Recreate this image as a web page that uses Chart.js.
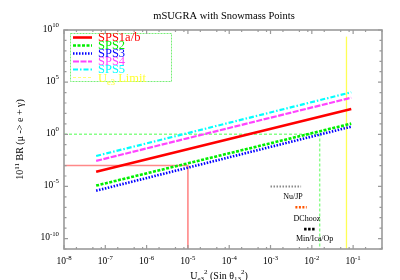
<!DOCTYPE html>
<html><head><meta charset="utf-8">
<script src="https://cdn.jsdelivr.net/npm/chart.js@4/dist/chart.umd.min.js"></script>
<style>html,body{margin:0;padding:0;background:#fff}</style>
</head><body>
<canvas id="c" width="400" height="280"></canvas>
<script>
// ---------------- data ----------------
const chartTitle = 'mSUGRA with Snowmass Points';
const seriesNames = ['SPS1a/b', 'SPS2', 'SPS3', 'SPS4', 'SPS5'];
const seriesX = [6e-8, 0.09];               // U_e3^2 at line ends
const sps1 = [2.5e-4, 270];
const sps2 = [1.2e-5, 10.5];
const sps3 = [3.9e-6, 5.4];
const sps4 = [2.8e-3, 3.2e3];
const sps5 = [8.3e-3, 1.07e4];
const limitName = 'Limit';
const ueLimitX = [0.069, 0.069];
const ueLimitY = [1e-11, 2.3e9];
const redRefX = [1e-8, 1e-5, 1e-5];
const redRefY = [1e-3, 1e-3, 1e-11];
const greenRefX = [1e-8, 1.55e-2, 1.55e-2];
const greenRefY = [1, 1, 1e-11];
const expNames = ['Nu/JP', 'DChooz', 'Min/Ica/Op'];
const expXStart = [1.0e-3, 4.0e-3, 6.5e-3];
const expXEnd = [5.5e-3, 7.5e-3, 1.2e-2];
const expY = [1e-5, 1e-7, 8e-10];
const expLabelX = [3.5e-3, 7.6e-3, 1.17e-2];
const expLabelY = [1e-6, 7.6e-9, 9e-11];
const xTickExps = [-8, -7, -6, -5, -4, -3, -2, -1];
const yTickExps = [10, 5, 0, -5, -10];

// ---------------- styles ----------------
const serif = "'Liberation Serif','Times New Roman',serif";
const sStyles = [
  {c:'#ff0000', w:2.6, d:[]},
  {c:'#00ee00', w:2.6, d:[3,1.5]},
  {c:'#0000ff', w:2.6, d:[1.5,1.5]},
  {c:'#ff44ff', w:2.2, d:[6,1.5]},
  {c:'#00ffff', w:2.2, d:[5,2,1.5,2]}
];
const expStyles = [
  {c:'#8a8a8a', w:2, d:[1.5,1.5]},
  {c:'#ff5500', w:2.4, d:[2,1.5]},
  {c:'#000000', w:2.8, d:[2.5,1.5]}
];
const seriesVals = [sps1, sps2, sps3, sps4, sps5];
const toPts = (xs, ys) => xs.map((v, i) => ({x: v, y: ys[i]}));

const datasets = [];
seriesVals.forEach((v, i) => datasets.push({
  label: seriesNames[i], data: toPts(seriesX, v), showLine: true, pointRadius: 0,
  borderColor: sStyles[i].c, borderWidth: sStyles[i].w, borderDash: sStyles[i].d, fill: false
}));
expNames.forEach((n, i) => datasets.push({
  label: n, data: toPts([expXStart[i], expXEnd[i]], [expY[i], expY[i]]), showLine: true, pointRadius: 0,
  borderColor: expStyles[i].c, borderWidth: expStyles[i].w, borderDash: expStyles[i].d, borderCapStyle: 'butt'
}));
datasets.push({label: 'Ue3 Limit', data: toPts(ueLimitX, ueLimitY), showLine: true, pointRadius: 0,
  borderColor: '#ffff55', borderWidth: 1.3});
datasets.push({label: 'green ref', data: toPts(greenRefX, greenRefY), showLine: true, pointRadius: 0,
  borderColor: '#88ff88', borderWidth: 1.4, borderDash: [3,2]});
datasets.push({label: 'red ref', data: toPts(redRefX, redRefY), showLine: true, pointRadius: 0,
  borderColor: '#ff8888', borderWidth: 1.6});

function supText(ctx, parts, x, y, align) {
  let total = 0;
  parts.forEach(p => { ctx.font = p.size + 'px ' + serif; p.w = ctx.measureText(p.t).width; total += p.w; });
  let sx = align === 'center' ? x - total / 2 : align === 'right' ? x - total : x;
  ctx.textAlign = 'left'; ctx.textBaseline = 'alphabetic';
  parts.forEach(p => { ctx.font = p.size + 'px ' + serif; ctx.fillText(p.t, sx, y + (p.dy || 0)); sx += p.w; });
}

const deco = {
  id: 'deco',
  afterDraw(chart) {
    const {ctx, chartArea: a, scales: {x, y}} = chart;
    ctx.save();
    // legend box
    ctx.strokeStyle = '#77ee77'; ctx.lineWidth = 1; ctx.setLineDash([2,1]);
    ctx.strokeRect(70.5, 33.5, 101, 48);
    const rows = [37.5, 45.5, 53.5, 61.5, 69.5, 77.5];
    seriesNames.forEach((n, i) => {
      ctx.strokeStyle = sStyles[i].c; ctx.lineWidth = sStyles[i].w; ctx.setLineDash(sStyles[i].d);
      ctx.beginPath(); ctx.moveTo(73, rows[i]); ctx.lineTo(92, rows[i]); ctx.stroke();
      ctx.fillStyle = sStyles[i].c; ctx.font = '12.5px ' + serif; ctx.textBaseline = 'middle'; ctx.textAlign = 'left';
      ctx.fillText(n, 98, rows[i] + 0.5);
    });
    ctx.strokeStyle = '#ffff77'; ctx.lineWidth = 1; ctx.setLineDash([3,2]);
    ctx.beginPath(); ctx.moveTo(73, rows[5]); ctx.lineTo(92, rows[5]); ctx.stroke();
    ctx.setLineDash([]);
    ctx.fillStyle = '#ffff33';
    supText(ctx, [{t:'U', size:12.5}, {t:'e3', size:8.5, dy:3}, {t:' ' + limitName, size:12.5}], 98, rows[5] + 4.5, 'left');

    // experiment labels
    ctx.fillStyle = '#000';
    expNames.forEach((n, i) => {
      ctx.font = '8px ' + serif; ctx.textAlign = 'center'; ctx.textBaseline = 'middle';
      ctx.fillText(n, x.getPixelForValue(expLabelX[i]), y.getPixelForValue(expLabelY[i]));
    });

    // frame
    ctx.strokeStyle = '#9a9a9a'; ctx.lineWidth = 1.6;
    ctx.strokeRect(a.left, a.top, a.right - a.left, a.bottom - a.top);
    // x ticks
    ctx.lineWidth = 1.2;
    ctx.beginPath();
    xTickExps.forEach(e => {
      [1, 2, 5, 8].forEach(m => {
        const v = m * Math.pow(10, e);
        if (v < x.min || v > x.max) return;
        const px = x.getPixelForValue(v), L = m === 1 ? 4 : 2;
        ctx.moveTo(px, a.bottom); ctx.lineTo(px, a.bottom - L);
        ctx.moveTo(px, a.top); ctx.lineTo(px, a.top + L);
      });
    });
    [2e-1, 5e-1].forEach(v => { if (v <= x.max) { const px = x.getPixelForValue(v);
      ctx.moveTo(px, a.bottom); ctx.lineTo(px, a.bottom - 2); ctx.moveTo(px, a.top); ctx.lineTo(px, a.top + 2);} });
    for (let e = -11; e <= 10; e++) {
      const py = y.getPixelForValue(Math.pow(10, e)), L = e % 5 === 0 ? 4 : 2.5;
      ctx.moveTo(a.left, py); ctx.lineTo(a.left + L, py);
      ctx.moveTo(a.right, py); ctx.lineTo(a.right - L, py);
    }
    ctx.stroke();

    // tick labels
    ctx.fillStyle = '#000';
    xTickExps.forEach(e => {
      const px = x.getPixelForValue(Math.pow(10, e));
      supText(ctx, [{t:'10', size:9.5}, {t:String(e), size:6.8, dy:-4.5}], px, a.bottom + 15, 'center');
    });
    yTickExps.forEach(e => {
      const py = y.getPixelForValue(Math.pow(10, e));
      supText(ctx, [{t:'10', size:9.5}, {t:String(e), size:6.8, dy:-4.5}], a.left - 5, py + 1.5, 'right');
    });

    // title
    ctx.font = '10.5px ' + serif; ctx.textAlign = 'center'; ctx.textBaseline = 'alphabetic';
    ctx.fillText(chartTitle, (a.left + a.right) / 2 + 1, 18.5);

    // x title
    supText(ctx, [{t:'U', size:10}, {t:'e3', size:7, dy:2.5}, {t:'2', size:7, dy:-4.5},
      {t:' (Sin \u03B8', size:10}, {t:'13', size:7, dy:2.5}, {t:'2', size:7, dy:-4.5}, {t:')', size:10}],
      219, 278.5, 'center');

    // y title
    ctx.translate(23, (a.top + a.bottom) / 2);
    ctx.rotate(-Math.PI / 2);
    supText(ctx, [{t:'10', size:10}, {t:'11', size:7, dy:-4.5}, {t:' BR (\u03BC -> e + \u03B3)', size:10}], 0, 0, 'center');
    ctx.restore();
  }
};

new Chart(document.getElementById('c'), {
  type: 'scatter',
  data: {datasets},
  options: {
    responsive: false, animation: false, devicePixelRatio: 1,
    layout: {padding: {left: 64, top: 30, right: 18, bottom: 31}},
    plugins: {legend: {display: false}, title: {display: false}, tooltip: {enabled: false}},
    scales: {
      x: {type: 'logarithmic', min: 1e-8, max: 0.5, display: false},
      y: {type: 'logarithmic', min: 1e-11, max: 1e10, display: false}
    }
  },
  plugins: [deco]
});
</script>
</body></html>
